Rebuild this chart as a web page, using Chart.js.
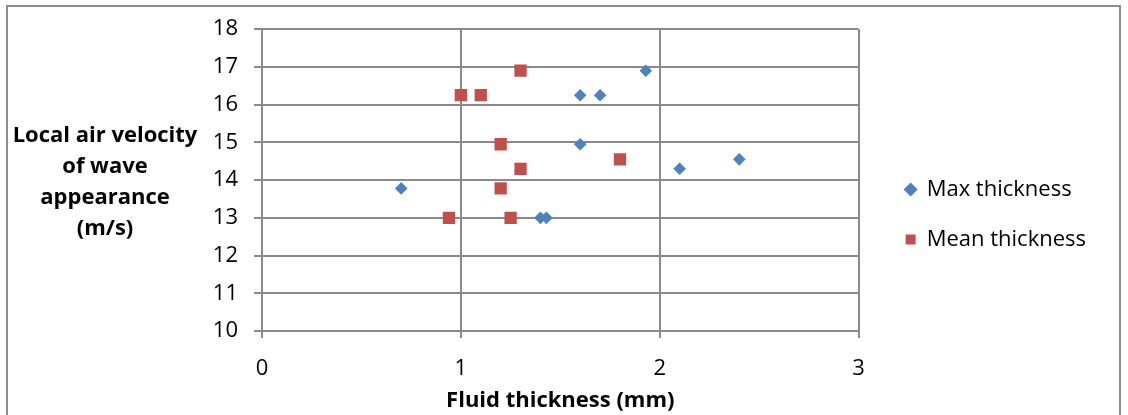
<!DOCTYPE html>
<html>
<head>
<meta charset="utf-8">
<script src="https://cdn.jsdelivr.net/npm/chart.js@4"></script>
<style>
    html, body { margin: 0; padding: 0; background: #fff; }
    #wrap { position: relative; width: 1128px; height: 415px; overflow: hidden; }
    #frame { position: absolute; left: 6px; top: 5px; width: 1115px; height: 430px; border: 2px solid #8c8c8c; box-sizing: border-box; }
    canvas { position: absolute; left: 0; top: 0; }
</style>
</head>
<body>
<div id="wrap">
    <div id="frame"></div>
    <canvas id="scatterChart" width="1128" height="415"></canvas>
</div>
<script>
// Max thickness series (x = fluid thickness mm, y = air velocity m/s)
const maxX = [0.70, 1.40, 1.43, 1.60, 1.60, 1.70, 1.93, 2.10, 2.40];
const maxY = [13.78, 13.00, 13.00, 14.95, 16.25, 16.25, 16.90, 14.30, 14.55];

// Mean thickness series
const meanX = [0.94, 1.25, 1.20, 1.30, 1.80, 1.20, 1.00, 1.10, 1.30];
const meanY = [13.00, 13.00, 13.78, 14.30, 14.55, 14.95, 16.25, 16.25, 16.90];

const seriesNames = ['Max thickness', 'Mean thickness'];
const xTitle = 'Fluid thickness (mm)';
const yTitleLines = ['Local air velocity', 'of wave', 'appearance', '(m/s)'];

document.addEventListener('DOMContentLoaded', function() {
    const ctx = document.getElementById('scatterChart').getContext('2d');
    const gridColor = '#8a8a8a';

    // Build point lists from the arrays
    function toPoints(xs, ys) {
        return xs.map((x, i) => ({ x: x, y: ys[i] }));
    }

    // Horizontal, multi-line y axis title (Excel style)
    const yTitlePlugin = {
        id: 'yTitle',
        afterDraw(chart) {
            const c = chart.ctx;
            const area = chart.chartArea;
            c.save();
            c.font = 'bold 22px "Open Sans"';
            c.fillStyle = '#000';
            c.textAlign = 'center';
            c.textBaseline = 'middle';
            const mid = (area.top + area.bottom) / 2 + 2;
            yTitleLines.forEach((line, i) => {
                c.fillText(line, 105, mid + (i - (yTitleLines.length - 1) / 2) * 31);
            });
            c.restore();
        }
    };

    // Nudge the legend a bit away from the plot, like Excel does
    const legendShift = {
        id: 'legendShift',
        afterLayout(chart) {
            const lg = chart.legend;
            if (!lg) return;
            lg.left += 19;
            lg.right += 19;
            lg.top -= 5;
            lg.bottom -= 5;
        }
    };

    new Chart(ctx, {
        type: 'scatter',
        data: {
            datasets: [{
                label: seriesNames[0],
                data: toPoints(maxX, maxY),
                pointStyle: 'rectRot',
                pointRadius: 6.3,
                pointHoverRadius: 6.3,
                backgroundColor: '#4f81bd',
                borderColor: '#4f81bd',
                borderWidth: 0
            }, {
                label: seriesNames[1],
                data: toPoints(meanX, meanY),
                pointStyle: 'rect',
                pointRadius: 8.7,
                pointHoverRadius: 8.7,
                backgroundColor: '#c0504d',
                borderColor: '#c0504d',
                borderWidth: 0
            }]
        },
        options: {
            responsive: false,
            animation: false,
            layout: {
                padding: { top: 25, right: 51, bottom: 1, left: 0 }
            },
            plugins: {
                legend: {
                    position: 'right',
                    labels: {
                        usePointStyle: true,
                        boxWidth: 10,
                        boxHeight: 10,
                        padding: 28,
                        color: '#000',
                        font: { family: 'Open Sans', size: 22 }
                    }
                },
                tooltip: { enabled: false }
            },
            scales: {
                x: {
                    type: 'linear',
                    min: 0,
                    max: 3,
                    ticks: {
                        stepSize: 1,
                        padding: 18,
                        color: '#000',
                        font: { family: 'Open Sans', size: 22 }
                    },
                    grid: { color: gridColor, lineWidth: 2, tickLength: 7 },
                    border: { color: gridColor, width: 2 },
                    title: {
                        display: true,
                        text: xTitle,
                        color: '#000',
                        padding: { top: 0, bottom: 0 },
                        font: { family: 'Open Sans', size: 22, weight: 'bold' }
                    },
                    afterFit: function(scale) { scale.height = 83; }
                },
                y: {
                    min: 10,
                    max: 18,
                    ticks: {
                        stepSize: 1,
                        padding: 16,
                        color: '#000',
                        font: { family: 'Open Sans', size: 22 }
                    },
                    grid: { color: gridColor, lineWidth: 2, tickLength: 8 },
                    border: { color: gridColor, width: 2 },
                    afterFit: function(scale) { scale.width = 262; }
                }
            }
        },
        plugins: [yTitlePlugin, legendShift]
    });
});
</script>
</body>
</html>
